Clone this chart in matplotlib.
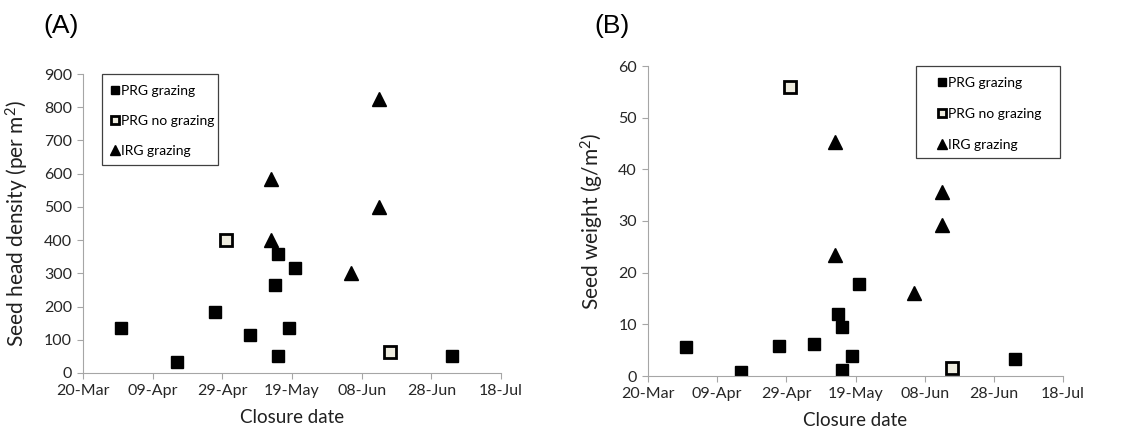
import numpy as np
import matplotlib
matplotlib.use("Agg")
import matplotlib.pyplot as plt
import matplotlib.dates as mdates
from matplotlib.patches import Rectangle

plt.rcParams.update({"font.family": ["Lato", "DejaVu Sans"],
                     "mathtext.default": "regular",
                     "axes.edgecolor": "#a6a6a6", "xtick.color": "#a6a6a6",
                     "ytick.color": "#a6a6a6", "xtick.labelcolor": "#262626",
                     "ytick.labelcolor": "#262626"})

# closure dates per treatment
prg_graz_dates = ["2010-03-31", "2010-04-16", "2010-04-27", "2010-05-07",
                  "2010-05-14", "2010-05-15", "2010-05-15", "2010-05-18",
                  "2010-05-20", "2010-07-04"]
prg_nograz_dates = ["2010-04-30", "2010-06-16"]
irg_graz_dates = ["2010-05-13", "2010-05-13", "2010-06-13", "2010-06-13",
                  "2010-06-05"]

# (A) seed head density, per m2
prg_graz_density = [135, 33, 185, 115, 265, 359, 52, 135, 316, 50]
prg_nograz_density = [401, 63]
irg_graz_density = [585, 400, 825, 500, 300]

# (B) seed weight, g/m2
prg_graz_weight = [5.7, 0.7, 5.9, 6.1, 12.0, 9.4, 1.2, 3.9, 17.8, 3.2]
prg_nograz_weight = [56.0, 1.5]
irg_graz_weight = [45.2, 23.5, 35.7, 29.3, 16.0]

tick_dates = ["2010-03-20", "2010-04-09", "2010-04-29", "2010-05-19",
              "2010-06-08", "2010-06-28", "2010-07-18"]

to_dt = lambda s: np.array(s, dtype="datetime64[D]")

W, H = 1126, 432
fig = plt.figure(figsize=(W / 100, H / 100), dpi=100, facecolor="white")


def px(l, t, r, b):
    return [l / W, 1 - b / H, (r - l) / W, (b - t) / H]


def panel(rect, ys, ylim, yticks, ylabel, tag, tagpos, legbox, legtop,
          legsp):
    ax = fig.add_axes(px(*rect))
    d1, d2, d3 = ys
    ax.plot(to_dt(prg_graz_dates), d1, "s", color="black", ms=9,
            label="PRG grazing")
    ax.plot(to_dt(prg_nograz_dates), d2, "s", mfc="#eeecdf", mec="black",
            mew=2, ms=8.5, label="PRG no grazing")
    ax.plot(to_dt(irg_graz_dates), d3, "^", color="black", ms=10,
            label="IRG grazing")
    ax.set_xlim(to_dt(tick_dates[0]), to_dt(tick_dates[-1]))
    ax.set_xticks(to_dt(tick_dates))
    ax.xaxis.set_major_formatter(mdates.DateFormatter("%d-%b"))
    ax.set_ylim(*ylim)
    ax.set_yticks(yticks)
    for s in ("top", "right"):
        ax.spines[s].set_visible(False)
    ax.tick_params(direction="out", length=4, width=0.8, labelsize=11.5,
                   pad=4)
    ax.set_xlabel("Closure date", fontsize=13.5, color="#202020",
                  labelpad=8)
    ax.set_ylabel(ylabel, fontsize=15, color="#202020", labelpad=9)
    fig.text(tagpos[0] / W, 1 - tagpos[1] / H, tag, fontsize=19,
             family="Liberation Sans", ha="left", va="center")
    l, t, r, b = legbox
    fig.patches.append(Rectangle((l / W, 1 - b / H), (r - l) / W,
                                 (b - t) / H, transform=fig.transFigure,
                                 fill=False, ec="#404040", lw=0.9))
    ax.legend(loc="upper left", bbox_to_anchor=(legtop[0] / W,
                                                1 - legtop[1] / H),
              bbox_transform=fig.transFigure, frameon=False, fontsize=10,
              handlelength=0.6, handletextpad=0.15, labelspacing=legsp,
              borderpad=0, borderaxespad=0, numpoints=1,
              markerscale=0.7)
    return ax


panel((83, 74, 501, 373),
      (prg_graz_density, prg_nograz_density, irg_graz_density),
      (0, 900), np.arange(0, 901, 100), "Seed head density (per m$^2$)",
      "(A)", (43, 26), (102, 74, 218, 165), (111, 85), 1.3)
panel((648, 66, 1063, 376),
      (prg_graz_weight, prg_nograz_weight, irg_graz_weight),
      (0, 60), np.arange(0, 61, 10), "Seed weight (g/m$^2$)",
      "(B)", (594, 26), (916, 66, 1060, 158), (938, 77), 1.38)

fig.savefig("out.png", dpi=100, facecolor="white")
